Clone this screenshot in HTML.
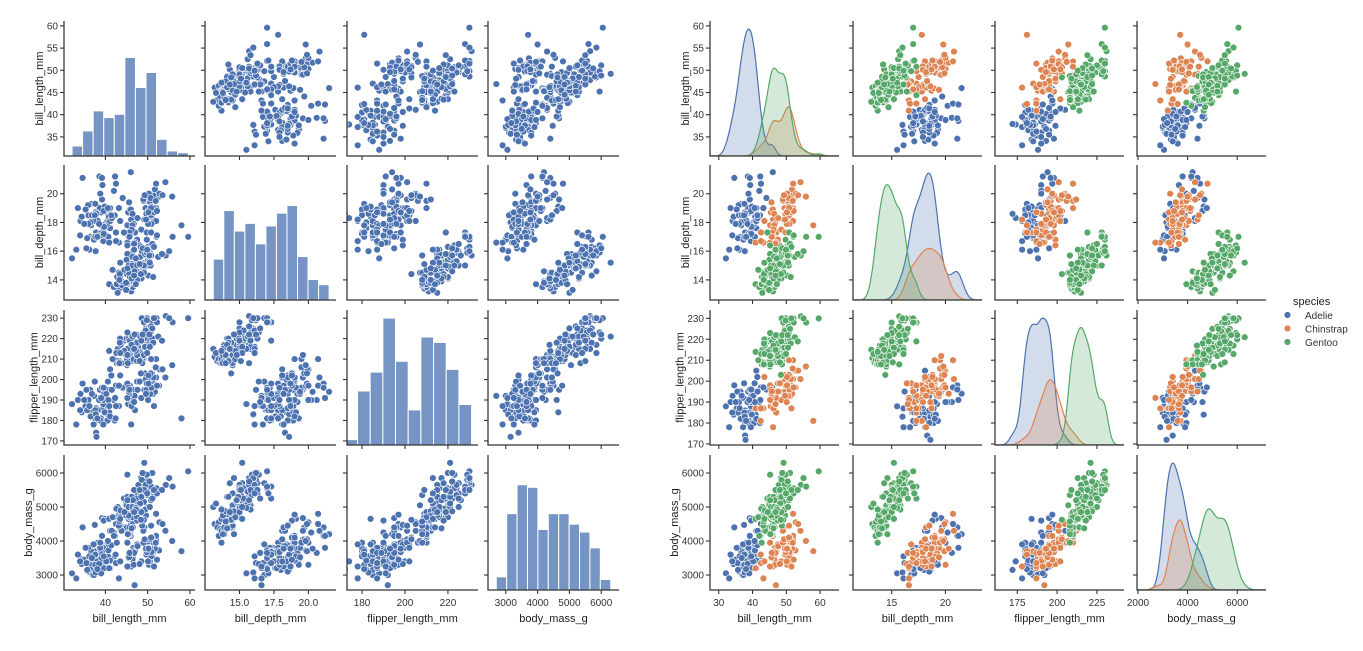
<!DOCTYPE html>
<html><head><meta charset="utf-8"><style>
body{margin:0;background:#fff;}
svg{display:block;font-family:"Liberation Sans",Arial,sans-serif;}
.tk{font-size:10px;fill:#333;}
.lab{font-size:11px;fill:#222;}
</style></head><body>
<svg id="chart" width="1363" height="651" viewBox="0 0 1363 651"></svg>
<script>
// [bill_length_mm, bill_depth_mm, flipper_length_mm, body_mass_g]
const adelie=[[39.1,18.7,181,3750],[39.5,17.4,186,3800],[40.3,18,195,3250],[36.7,19.3,193,3450],[39.3,20.6,190,3650],[38.9,17.8,181,3625],[39.2,19.6,195,4675],[34.1,18.1,193,3475],[42,20.2,190,4250],[37.8,17.1,186,3300],[37.8,17.3,180,3700],[41.1,17.6,182,3200],[38.6,21.2,191,3800],[34.6,21.1,198,4400],[36.6,17.8,185,3700],[38.7,19,195,3450],[42.5,20.7,197,4500],[34.4,18.4,184,3325],[46,21.5,194,4200],[37.8,18.3,174,3400],[37.7,18.7,180,3600],[35.9,19.2,189,3800],[38.2,18.1,185,3950],[38.8,17.2,180,3800],[35.3,18.9,187,3800],[40.6,18.6,183,3550],[40.5,17.9,187,3200],[37.9,18.6,172,3150],[40.5,18.9,180,3950],[39.5,16.7,178,3250],[37.2,18.1,178,3900],[39.5,17.8,188,3300],[40.9,18.9,184,3900],[36.4,17,195,3325],[39.2,21.1,196,4150],[38.8,20,190,3950],[42.2,18.5,180,3550],[37.6,19.3,181,3300],[39.8,19.1,184,4650],[36.5,18,182,3150],[40.8,18.4,195,3900],[36,18.5,186,3100],[44.1,19.7,196,4400],[37,16.9,185,3000],[39.6,18.8,190,4600],[41.1,19,182,3425],[36,17.9,190,3450],[42.3,21.2,191,4150],[32.1,15.5,188,3050],[33.5,19,190,3600],[35.7,16.9,185,3150],[41.1,18.1,205,4300],[45.8,18.9,197,4150],[35,17.9,190,3450],[37.3,16.8,192,3000],[36.2,16.1,187,3550],[39.7,17.7,193,3200],[40.2,17.1,193,3400],[41.5,18.3,195,4300],[35.5,16.2,195,3350],[43.2,19,197,4775],[38.5,17.9,190,3325],[37.6,17,185,3600],[37.7,16,183,3075],[40.7,17,190,3725],[39,17.1,191,3050],[41.4,18.5,202,3875],[40.6,19,199,4000],[36.8,18.5,193,3500],[33.1,16.1,178,2900],[37.5,18.5,199,4475],[34,17.1,185,3400],[39.6,17.2,196,3550],[38.1,17,181,3175]];
const chinstrap=[[46.5,17.9,192,3500],[50,19.5,196,3900],[51.3,19.2,193,3650],[45.4,18.7,188,3525],[52.7,19.8,197,3725],[45.2,17.8,198,3950],[46.1,18.2,178,3250],[51.3,18.2,197,3750],[46,18.9,195,4150],[51.3,19.9,198,3700],[46.6,17.8,193,3800],[51.7,20.3,194,3775],[47,17.3,185,3700],[52,18.1,201,4050],[45.9,17.1,190,3575],[50.5,19.6,201,4050],[50.3,20,197,3300],[58,17.8,181,3700],[46.4,18.6,190,3450],[49.2,18.2,195,4400],[42.4,17.3,181,3600],[48.5,17.5,191,3400],[43.2,16.6,187,2900],[50.6,19.4,193,3800],[46.7,17.9,195,3300],[52,19,197,4150],[50.5,18.4,200,3400],[49.5,19,200,3800],[46.4,17.8,191,3700],[52.8,20,205,4550],[40.9,16.6,187,3200],[54.2,20.8,201,4300],[42.5,16.7,187,3350],[51,18.8,203,4100],[49.7,18.6,195,3600],[47.5,16.8,199,3900],[47.6,18.3,195,3850],[52,20.7,210,4800],[46.9,16.6,192,2700],[53.5,19.9,205,4500],[49,19.5,210,3950],[46.2,17.5,187,3650],[50.9,19.1,196,3550],[45.5,17,196,3500],[50.9,17.9,196,3675],[50.8,18.5,201,4450],[50.1,17.9,190,3400],[49,19.6,212,4300],[51.5,18.7,187,3250],[49.8,17.3,198,3675],[48.1,16.4,199,3325],[51.4,19,201,3950],[45.7,17.3,193,3600],[50.7,19.7,203,4050],[42.5,17.3,187,3350],[52.2,18.8,197,3450],[45.2,16.6,191,3250],[49.3,19.9,203,4050],[50.2,18.8,202,3800],[45.6,19.4,194,3525],[51.9,19.5,206,3950],[46.8,16.5,189,3650],[45.7,17,195,3650],[55.8,19.8,207,4000],[43.5,18.1,202,3400],[49.6,18.2,193,3775],[50.8,19,210,4100],[50.2,18.7,198,3775]];
const gentoo=[[46.1,13.2,211,4500],[50,16.3,230,5700],[48.7,14.1,210,4450],[50,15.2,218,5700],[47.6,14.5,215,5400],[46.5,13.5,210,4550],[45.4,14.6,211,4800],[46.7,15.3,219,5200],[43.3,13.4,209,4400],[46.8,15.4,215,5150],[40.9,13.7,214,4650],[49,16.1,216,5550],[45.5,13.7,214,4650],[48.4,14.6,213,5850],[45.8,14.6,210,4200],[49.3,15.7,217,5850],[42,13.5,210,4150],[49.2,15.2,221,6300],[46.2,14.5,209,4800],[48.7,15.1,222,5350],[50.2,14.3,218,5700],[45.1,14.5,215,5000],[46.5,14.5,213,4400],[46.3,15.8,215,5050],[42.9,13.1,215,5000],[46.1,15.1,215,5100],[47.8,15,215,5650],[48.2,14.3,210,4600],[50,15.3,220,5550],[47.3,15.3,222,5250],[42.8,14.2,209,4700],[45.1,14.5,207,5050],[59.6,17,230,6050],[49.1,14.8,220,5150],[48.4,16.3,220,5400],[42.6,13.7,213,4950],[44.4,17.3,219,5250],[44,13.6,208,4350],[48.7,15.7,208,5350],[42.7,13.7,208,3950],[49.6,16,225,5700],[45.3,13.7,210,4300],[49.6,15,216,4750],[50.5,15.9,222,5550],[43.6,13.9,217,4900],[45.5,13.9,210,4200],[50.5,15.9,225,5400],[44.9,13.3,213,5100],[45.2,15.8,215,5300],[46.6,14.2,210,4850],[48.5,14.1,220,5300],[45.1,14.4,210,4400],[50.1,15,225,5000],[46.5,14.4,217,4900],[45,15.4,220,5050],[43.8,13.9,208,4300],[45.5,15,220,5000],[43.2,14.5,208,4450],[50.4,15.3,224,5550],[45.3,13.8,208,4200],[46.2,14.9,221,5300],[45.7,13.9,214,4400],[54.3,15.7,231,5650],[45.8,14.2,219,4700],[49.8,16.8,230,5700],[49.5,16.2,229,5800],[43.5,14.2,220,4700],[50.7,15,223,5550],[47.7,15,216,4750],[46.4,15.6,221,5000],[48.2,15.6,221,5100],[46.5,14.8,217,5200],[46.4,15,216,4700],[48.6,16,230,5800],[47.5,14.2,209,4600],[51.1,16.3,220,6000],[45.2,13.8,215,4750],[45.2,16.4,223,5950],[49.1,14.5,212,4625],[52.5,15.6,221,5450],[47.4,14.6,212,4725],[50,15.9,224,5350],[44.9,13.8,212,4750],[50.8,17.3,228,5600],[43.4,14.4,218,4600],[51.3,14.2,218,5300],[47.5,14,212,4875],[52.1,17,230,5550],[47.5,15,218,4950],[52.2,17.1,228,5400],[45.5,14.5,212,4750],[49.5,16.1,224,5650],[44.5,14.7,214,4850],[50.8,15.7,226,5200],[49.4,15.8,216,4925],[46.9,14.6,222,4875],[48.4,14.4,203,4625],[51.1,16.5,225,5250],[48.5,15,219,4850],[55.9,17,228,5600],[47.2,15.5,215,4975],[49.1,15,228,5500],[46.8,16.1,215,5500],[41.7,14.7,210,4700],[53.4,15.8,219,5500],[43.3,14,208,4575],[48.1,15.1,209,5500],[50.5,15.2,216,5000],[49.8,15.9,229,5950],[43.5,15.2,213,4650],[51.5,16.3,230,5500],[46.2,14.1,217,4375],[55.1,16,230,5850],[48.8,16.2,222,6000],[47.2,13.7,214,4925],[46.8,14.3,215,4850],[50.4,15.7,222,5750],[45.2,14.8,212,5200],[49.9,16.1,213,5400]];
const speciesNames=['Adelie','Chinstrap','Gentoo'];
const speciesCounts=[151,68,123];
const variables=['bill_length_mm','bill_depth_mm','flipper_length_mm','body_mass_g'];
const yTicks=[[35,40,45,50,55,60],[14,16,18,20],[170,180,190,200,210,220,230],[3000,4000,5000,6000]];
const xTicksLeft=[[40,50,60],[15.0,17.5,20.0],[180,200,220],[3000,4000,5000,6000]];
const xTicksRight=[[30,40,50,60],[15,20],[175,200,225],[2000,4000,6000]];
const histBins=[11,11,10,11];

const COLORS=['#4c72b0','#dd8452','#55a868'];
const allData=[adelie,chinstrap,gentoo];
const svg=document.getElementById('chart');
const NS='http://www.w3.org/2000/svg';
function mk(tag,attrs,parent){const e=document.createElementNS(NS,tag);for(const k in attrs)e.setAttribute(k,attrs[k]);(parent||svg).appendChild(e);return e;}

const rowsY=[21,165,310,455], rowH=135;
const yRangeL=[[30.7,61.1],[12.6,22.0],[168,234],[2560,6530]];
const yRangeR=[[30.7,61.1],[12.6,22.0],[169.5,234],[2560,6530]];
const gridL={x:[64,205,347,488],w:131,xr:[[30.2,61.2],[12.5,22.0],[173,234],[2440,6560]],xt:xTicksLeft,yr:yRangeL,fmt:[0,1,0,0],hue:false};
const gridR={x:[710,853,995,1137],w:129,xr:[[27.4,65.6],[11.4,23.4],[161,242],[1960,7160]],xt:xTicksRight,yr:yRangeR,fmt:[0,0,0,0],hue:true};

function drawGrid(G,gname){
  for(let r=0;r<4;r++)for(let c=0;c<4;c++){
    const x0=G.x[c],y0=rowsY[r],w=G.w,h=rowH;
    const g=mk('g',{},svg);
    
    
    const sx=v=>x0+(v-G.xr[c][0])/(G.xr[c][1]-G.xr[c][0])*w;
    const sy=v=>y0+h-(v-G.yr[r][0])/(G.yr[r][1]-G.yr[r][0])*h;
    const clipId='clip-'+gname+r+c;
    const cp=mk('clipPath',{id:clipId},g);mk('rect',{x:x0,y:y0,width:w,height:h},cp);
    const body=mk('g',{'clip-path':'url(#'+clipId+')'},g);
    if(r===c){
      if(!G.hue){
        const vals=[].concat(...allData).map(d=>d[c]);
        const mn=Math.min(...vals),mx=Math.max(...vals),n=histBins[c],bw=(mx-mn)/n;
        const counts=new Array(n).fill(0);
        vals.forEach(v=>{let i=Math.floor((v-mn)/bw);if(i>=n)i=n-1;counts[i]++;});
        const cm=Math.max(...counts);const frac=[0.73,0.7,0.94,0.78][c];
        counts.forEach((ct,i)=>{
          const bh=ct/cm*frac*h;
          const b=mk('rect',{x:sx(mn+i*bw),y:y0+h-bh,width:sx(mn+(i+1)*bw)-sx(mn+i*bw),height:bh,fill:'#7795c4',stroke:'#fff','stroke-width':1},body);
          
          
        });
      } else {
        const N=speciesCounts.reduce((a,b)=>a+b,0);
        const curves=allData.map((ds,si)=>{
          const v=ds.map(d=>d[c]);const n=v.length;const m=v.reduce((a,b)=>a+b,0)/n;
          const sd=Math.sqrt(v.reduce((a,b)=>a+(b-m)*(b-m),0)/(n-1));const bw=sd*Math.pow(speciesCounts[si],-0.2);
          const wgt=speciesCounts[si]/N;
          const pts=[];
          for(let i=0;i<=240;i++){const xv=G.xr[c][0]+(G.xr[c][1]-G.xr[c][0])*i/240;
            let s=0;v.forEach(q=>{const z=(xv-q)/bw;s+=Math.exp(-0.5*z*z);});
            pts.push([xv,wgt*s/(n*bw*Math.sqrt(2*Math.PI))]);}
          return pts;});
        const ymax=Math.max(...curves.map(p=>Math.max(...p.map(q=>q[1]))));
        curves.forEach((pts,si)=>{
          const P=pts.map(p=>[sx(p[0]),y0+h-p[1]/ymax*0.94*h]);
          let d='M'+P.map(p=>p[0].toFixed(1)+','+p[1].toFixed(1)).join('L');
          const f=mk('path',{d:d+'L'+P[P.length-1][0]+','+(y0+h)+'L'+P[0][0]+','+(y0+h)+'Z',fill:COLORS[si],'fill-opacity':0.25,stroke:'none'},body);
          
          
          const l=mk('path',{d:d,fill:'none',stroke:COLORS[si],'stroke-width':1.2},body);
          
          
        });
      }
    } else {
      allData.forEach((ds,si)=>ds.forEach(d=>{
        const p=mk('circle',{cx:sx(d[c]).toFixed(1),cy:sy(d[r]).toFixed(1),r:3.4,fill:G.hue?COLORS[si]:COLORS[0],stroke:'#fff','stroke-width':0.6},body);
        
        
      }));
    }
    mk('path',{d:`M${x0},${y0}V${y0+h}H${x0+w}`,fill:'none',stroke:'#333','stroke-width':1.25},g);
    let maxW=0;
    yTicks[r].forEach(t=>{const y=sy(t);if(y<y0-1||y>y0+h+1)return;
      mk('line',{x1:x0-4,x2:x0,y1:y,y2:y,stroke:'#333','stroke-width':1.1},g);
      if(c===0){const tx=mk('text',{x:x0-6,y:y+3.5,'text-anchor':'end',class:'tk'},g);tx.textContent=t;
        
        
        maxW=Math.max(maxW,tx.getComputedTextLength());}
    });
    G.xt[c].forEach(t=>{const x=sx(t);
      mk('line',{x1:x,x2:x,y1:y0+h,y2:y0+h+4,stroke:'#333','stroke-width':1.1},g);
      if(r===3){const tx=mk('text',{x:x,y:y0+h+16,'text-anchor':'middle',class:'tk'},g);tx.textContent=G.fmt[c]?t.toFixed(1):t;
        
        }
    });
    if(r===3){const t=mk('text',{x:x0+w/2,y:y0+h+32,'text-anchor':'middle',class:'lab'},g);t.textContent=variables[c];
      
      }
    if(c===0){const cy=y0+h/2;const lx=x0-6-maxW-4;const t=mk('text',{x:lx,y:cy,'text-anchor':'middle',class:'lab',transform:`rotate(-90 ${lx} ${cy})`},g);t.textContent=variables[r];
      
      }
  }
}
drawGrid(gridL,'left');
drawGrid(gridR,'right');
const lg=mk('g',{},svg);


const lt=mk('text',{x:1293,y:305,class:'lab'},lg);lt.textContent='species';
speciesNames.forEach((s,i)=>{
  const y=315+i*13.5;
  const e=mk('g',{},lg);
  
  
  mk('circle',{cx:1287.5,cy:y,r:3.4,fill:COLORS[i],stroke:'#fff','stroke-width':0.6},e);
  const t=mk('text',{x:1305,y:y+4,class:'tk'},e);t.textContent=s;
});
</script>
</body></html>
